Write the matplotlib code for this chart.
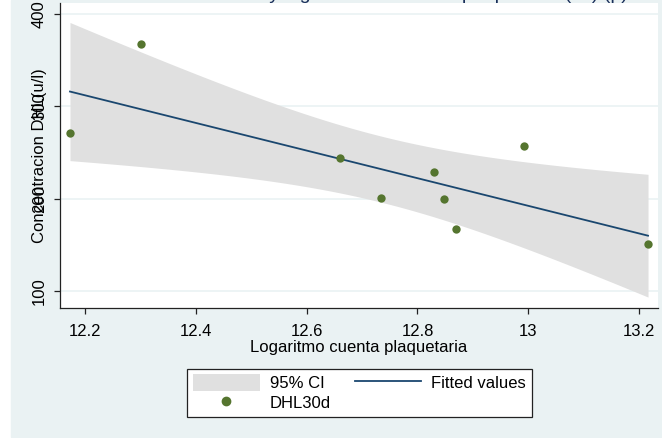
import numpy as np
import matplotlib
matplotlib.use("Agg")
import matplotlib.pyplot as plt
from matplotlib.patches import Rectangle, Patch
from matplotlib.lines import Line2D

plt.rcParams["font.family"] = ["Liberation Sans", "DejaVu Sans"]

# data
log_platelets = [12.173, 12.301, 12.661, 12.734, 12.829, 12.848, 12.869, 12.992, 13.216]
dhl30d = [270.7, 367.5, 243.7, 201.0, 228.5, 199.7, 167.2, 256.7, 150.9]
y_ticks = [100, 200, 300, 400]
x_ticks = [12.2, 12.4, 12.6, 12.8, 13.0, 13.2]
x_tick_labels = ["12.2", "12.4", "12.6", "12.8", "13", "13.2"]
T_975_DF7 = 2.364624  # t quantile for 95% CI, n-2 = 7

BG = "#EAF2F3"
NAVY = "#1A476F"
GREEN = "#55752F"
BAND = "#E0E0E0"
FS = 12

x = np.array(log_platelets)
y = np.array(dhl30d)

# linear fit with 95% CI of the mean prediction (like Stata lfitci)
slope, intercept = np.polyfit(x, y, 1)
resid = y - (slope * x + intercept)
n = len(x)
s = np.sqrt(np.sum(resid ** 2) / (n - 2))
sxx = np.sum((x - x.mean()) ** 2)
grid = np.linspace(x.min(), x.max(), 100)
fit = slope * grid + intercept
se = s * np.sqrt(1 / n + (grid - x.mean()) ** 2 / sxx)
lo = fit - T_975_DF7 * se
hi = fit + T_975_DF7 * se

W, H = 662, 438
fig = plt.figure(figsize=(W / 100, H / 100), dpi=100, facecolor="white")
fig.patches.append(Rectangle((11 / W, 1 / H), 1 - 11 / W, 1 - 1 / H,
                             transform=fig.transFigure, color=BG, zorder=-5))

ax = fig.add_axes([60 / W, (H - 308) / H, (658 - 60) / W, (308 - 3) / H])
ax.set_zorder(2)
ax.set_facecolor("white")

ax.fill_between(grid, lo, hi, color=BAND, linewidth=0, zorder=1)
ax.plot(grid, fit, color=NAVY, linewidth=1.3, zorder=2)
ax.scatter(x, y, s=36, color=GREEN, zorder=3, linewidths=0)

ax.set_xlim(12.155, 13.234)
ax.set_ylim(81.6, 411.9)
ax.set_xticks(x_ticks)
ax.set_xticklabels(x_tick_labels)
ax.set_yticks(y_ticks)
ax.set_yticklabels([str(v) for v in y_ticks], rotation=90, va="center")
ax.grid(axis="y", color=BG, linewidth=1.2, zorder=0)
ax.set_axisbelow(True)

for side in ("top", "right"):
    ax.spines[side].set_visible(False)
for side in ("left", "bottom"):
    ax.spines[side].set_linewidth(0.9)
    ax.spines[side].set_color("#222222")
ax.tick_params(axis="both", direction="out", length=4.3, width=0.9,
               color="#222222", labelsize=FS)
ax.tick_params(axis="x", pad=7.5)
ax.tick_params(axis="y", pad=5)

ax.set_xlabel("Logaritmo cuenta plaquetaria", fontsize=FS, labelpad=0.5)
ax.set_ylabel("Concentracion DHL(u/l)", fontsize=FS, va="center")
ax.yaxis.set_label_coords(-20 / 598, 0.5)

# title cut off by the top edge, only descenders show
fig.text(0.545, 1.0 + 1.5 / H, "Concentracion DHL y logaritmo de cuenta plaquetaria (u/l) (p)",
         ha="center", va="baseline", fontsize=14, color="#1A2F5A")

handles = [Patch(facecolor=BAND, edgecolor="none"),
           Line2D([], [], marker="o", linestyle="none", color=GREEN, markersize=6),
           Line2D([], [], color=NAVY, linewidth=1.3)]
labels = ["95% CI", "DHL30d", "Fitted values"]
leg = fig.legend(handles, labels, ncol=2, loc="lower left",
                 bbox_to_anchor=(187 / W, (H - 417) / H, 345 / W, 55 / H),
                 mode="expand", fontsize=FS, frameon=True, fancybox=False,
                 edgecolor="#222222", framealpha=1, handlelength=4.0,
                 handleheight=1.2, handletextpad=0.6, borderpad=0.35,
                 labelspacing=0.15, columnspacing=1.0, borderaxespad=0)
leg.get_frame().set_linewidth(0.9)

fig.savefig("out.png", dpi=100)
